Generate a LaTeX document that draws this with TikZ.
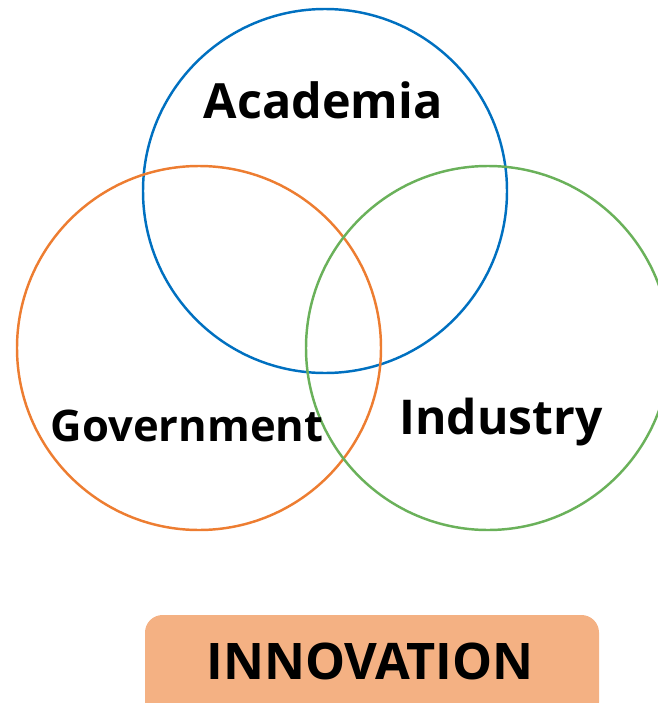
\documentclass[tikz,border=0pt]{standalone}
\usepackage{fontspec}
\setmainfont{Open Sans}
\definecolor{acablue}{HTML}{0070C0}
\definecolor{govorange}{HTML}{ED7D31}
\definecolor{indgreen}{HTML}{6AB15A}
\definecolor{innofill}{HTML}{F4B183}

\begin{document}
\begin{tikzpicture}[x=0.02cm,y=-0.02cm,
    ring/.style={draw,line width=1.4pt},
    sector/.style={font=\bfseries\fontsize{27.6}{28}\selectfont,inner sep=0pt}]
    \clip (0,0) rectangle (658,703);
    \useasboundingbox (0,0) rectangle (658,703);

    \draw[ring,acablue] (325,191) circle (182);
    \draw[ring,govorange] (199,348) circle (182);
    \draw[ring,indgreen] (488,348) circle (182);

    \node[sector] (aca) at (323,100) {Academia};
    \node[sector,font=\bfseries\fontsize{24.8}{25}\selectfont] (gov) at (187,426) {Government};
    \node[sector,font=\bfseries\fontsize{27.3}{28}\selectfont] (ind) at (501,422) {Industry};

    \fill[innofill,rounded corners=10] (145,615) rectangle (599,720);
    \node[sector,font=\bfseries\fontsize{28.7}{29}\selectfont] (inno) at (370,661) {INNOVATION};
\end{tikzpicture}
\end{document}
